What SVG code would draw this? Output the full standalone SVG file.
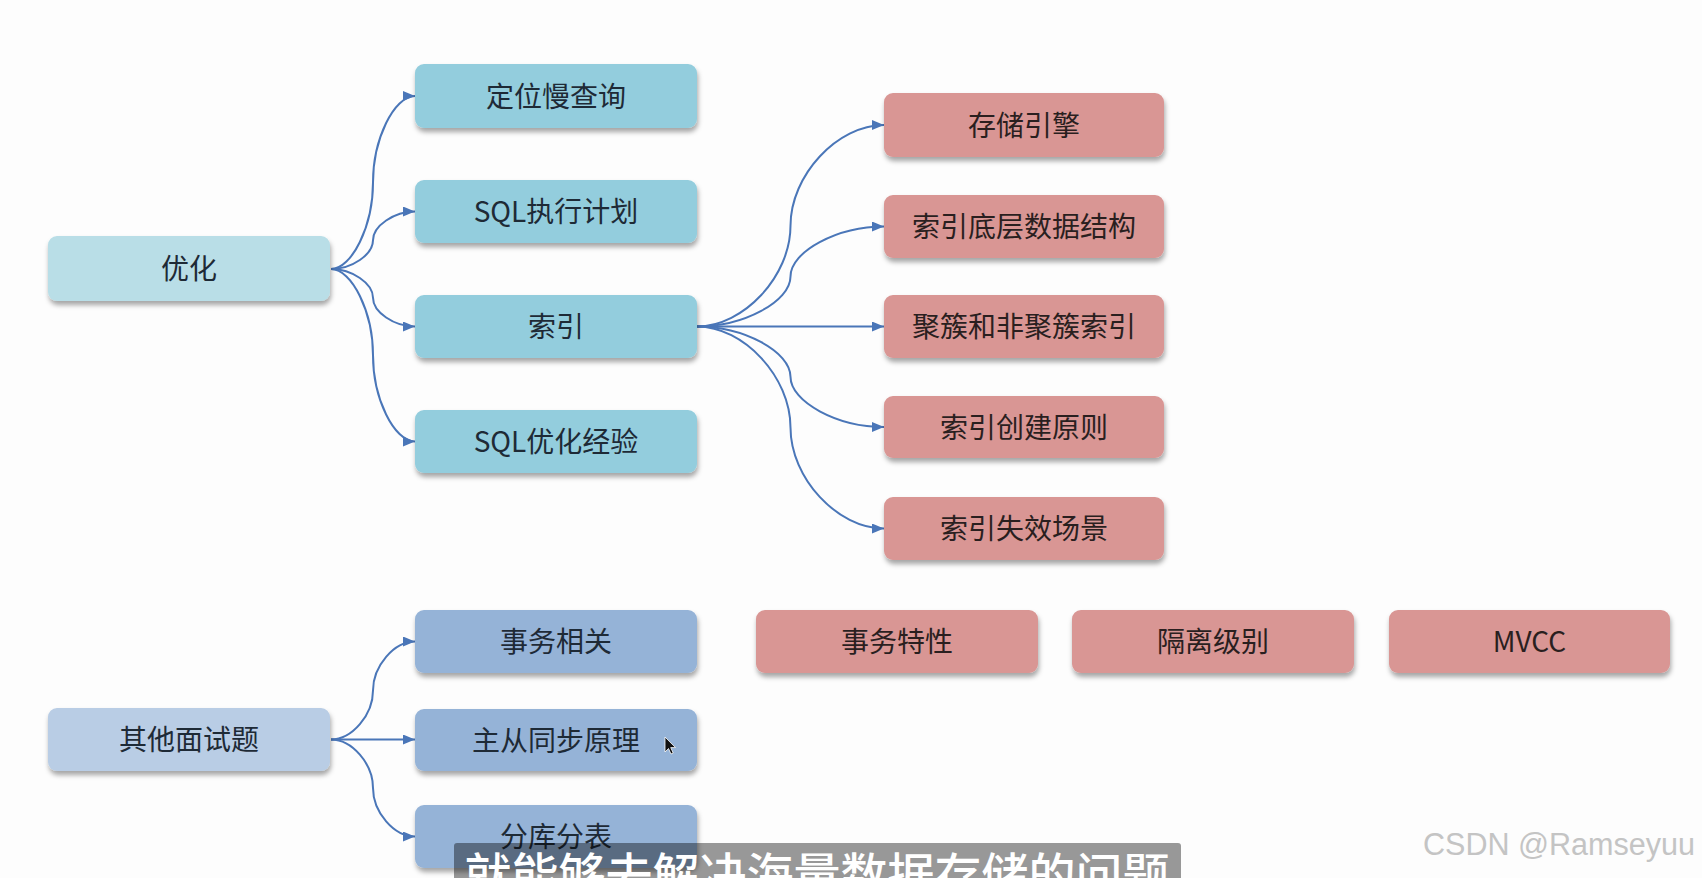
<svg xmlns="http://www.w3.org/2000/svg" width="1702" height="878" viewBox="0 0 1702 878">
<defs>
<filter id="sh" x="-10%" y="-20%" width="120%" height="150%">
<feDropShadow dx="1" dy="4" stdDeviation="2.5" flood-color="#000" flood-opacity="0.35"/>
</filter>
<marker id="arr" markerUnits="userSpaceOnUse" markerWidth="14" markerHeight="12" refX="12" refY="5" orient="auto">
<path d="M0,0 L12,5 L0,10 z" fill="#4a76b8"/>
</marker>
<style>
.box{filter:url(#sh);}
.root1{fill:#b9dee7;}
.l1{fill:#93cddd;}
.red{fill:#d99694;}
.root2{fill:#b9cde5;}
.l2{fill:#95b3d7;}
.t{font-family:"Noto Sans CJK SC","Noto Sans",sans-serif;font-size:28px;text-anchor:middle;fill:#1e2a36;}
.tr{fill:#2a1f1f;}
.c{fill:none;stroke:#4a76b8;stroke-width:2;marker-end:url(#arr);}
</style>
</defs>
<rect width="1702" height="878" fill="#fdfdfd"/>

<g id="connectors">
<path class="c" d="M331,269 C352,269 373,225.75 373,182.5 C373,139.25 394,96 415,96"/>
<path class="c" d="M331,269 C352,269 373,254.6 373,240.25 C373,225.9 394,211.5 415,211.5"/>
<path class="c" d="M331,269 C352,269 373,283.4 373,297.75 C373,312.1 394,326.5 415,326.5"/>
<path class="c" d="M331,269 C352,269 373,312.1 373,355.25 C373,398.4 394,441.5 415,441.5"/>
<path class="c" d="M697,326.5 C743.75,326.5 790.5,276.1 790.5,225.75 C790.5,175.4 837.25,125 884,125"/>
<path class="c" d="M697,326.5 C743.75,326.5 790.5,301.5 790.5,276.5 C790.5,251.5 837.25,226.5 884,226.5"/>
<path class="c" d="M697,326.5 L884,326.5"/>
<path class="c" d="M697,326.5 C743.75,326.5 790.5,351.6 790.5,376.75 C790.5,401.9 837.25,427 884,427"/>
<path class="c" d="M697,326.5 C743.75,326.5 790.5,377 790.5,427.5 C790.5,478 837.25,528.5 884,528.5"/>
<path class="c" d="M331,739.5 C352,739.5 373,715 373,690.5 C373,666 394,641.5 415,641.5"/>
<path class="c" d="M331,739.5 L415,739.5"/>
<path class="c" d="M331,739.5 C352,739.5 373,763.75 373,788 C373,812.25 394,836.5 415,836.5"/>
</g>

<g id="n-youhua"><rect class="box root1" x="48" y="236" width="282" height="65" rx="9"/><text class="t" x="189" y="278.5">优化</text></g>
<g id="n-dingwei"><rect class="box l1" x="415" y="64" width="282" height="64" rx="9"/><text class="t" x="556" y="106.5">定位慢查询</text></g>
<g id="n-sqlplan"><rect class="box l1" x="415" y="180" width="282" height="63" rx="9"/><text class="t" x="556" y="221.5">SQL执行计划</text></g>
<g id="n-suoyin"><rect class="box l1" x="415" y="295" width="282" height="63" rx="9"/><text class="t" x="556" y="336.5">索引</text></g>
<g id="n-sqlopt"><rect class="box l1" x="415" y="410" width="282" height="63" rx="9"/><text class="t" x="556" y="451.5">SQL优化经验</text></g>

<g id="n-engine"><rect class="box red" x="884" y="93" width="280" height="64" rx="9"/><text class="t tr" x="1024" y="135.5">存储引擎</text></g>
<g id="n-struct"><rect class="box red" x="884" y="195" width="280" height="63" rx="9"/><text class="t tr" x="1024" y="236.5">索引底层数据结构</text></g>
<g id="n-cluster"><rect class="box red" x="884" y="295" width="280" height="63" rx="9"/><text class="t tr" x="1024" y="336.5">聚簇和非聚簇索引</text></g>
<g id="n-create"><rect class="box red" x="884" y="396" width="280" height="62" rx="9"/><text class="t tr" x="1024" y="437.5">索引创建原则</text></g>
<g id="n-invalid"><rect class="box red" x="884" y="497" width="280" height="63" rx="9"/><text class="t tr" x="1024" y="538.5">索引失效场景</text></g>

<g id="n-other"><rect class="box root2" x="48" y="708" width="282" height="63" rx="9"/><text class="t" x="189" y="749.5">其他面试题</text></g>
<g id="n-tx"><rect class="box l2" x="415" y="610" width="282" height="63" rx="9"/><text class="t" x="556" y="651.5">事务相关</text></g>
<g id="n-repl"><rect class="box l2" x="415" y="709" width="282" height="62" rx="9"/><text class="t" x="556" y="750.5">主从同步原理</text></g>
<g id="n-shard"><rect class="box l2" x="415" y="805" width="282" height="63" rx="9"/><text class="t" x="556" y="846.5">分库分表</text></g>

<g id="n-acid"><rect class="box red" x="756" y="610" width="282" height="63" rx="9"/><text class="t tr" x="897" y="651.5">事务特性</text></g>
<g id="n-iso"><rect class="box red" x="1072" y="610" width="282" height="63" rx="9"/><text class="t tr" x="1213" y="651.5">隔离级别</text></g>
<g id="n-mvcc"><rect class="box red" x="1389" y="610" width="281" height="63" rx="9"/><text class="t tr" x="1529.5" y="651.5">MVCC</text></g>

<path d="M665,737 L665,752 L668.5,748.5 L671,754 L673.2,753 L670.7,747.6 L675.5,747.6 Z" fill="#111" stroke="#fff" stroke-width="0.8"/>

<g id="subtitle">
<rect x="454" y="843" width="727" height="45" rx="3" fill="#000" fill-opacity="0.4"/>
<text x="817" y="892" font-family="Noto Sans CJK SC, sans-serif" font-size="47" font-weight="500" text-anchor="middle" fill="#ffffff">就能够去解决海量数据存储的问题</text>
</g>
<text x="1423" y="855" font-family="Liberation Sans, Arial, sans-serif" font-size="31" textLength="272" lengthAdjust="spacingAndGlyphs" fill="#c4c4c4">CSDN @Ramseyuu</text>
</svg>
